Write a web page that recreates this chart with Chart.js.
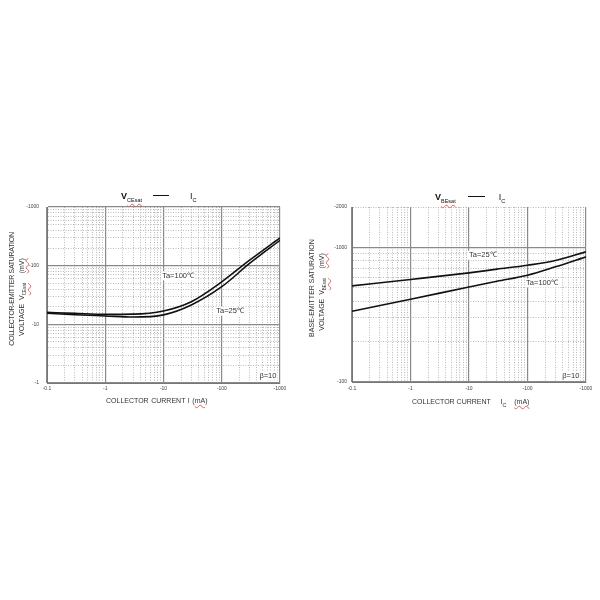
<!DOCTYPE html>
<html>
<head>
<meta charset="utf-8">
<script src="https://cdn.jsdelivr.net/npm/chart.js@4/dist/chart.umd.min.js"></script>
<style>
    body {
        margin: 0;
        width: 600px;
        height: 600px;
        background: #fff;
        position: relative;
        overflow: hidden;
        font-family: "Liberation Sans", Arial, sans-serif;
        color: #333;
    }
    .caja { position: absolute; }
    .caja canvas { display: block; }
    .txt { position: absolute; white-space: nowrap; line-height: 1; font-size: 7px; }
    .rot { transform: translate(-50%, -50%) rotate(-90deg); }
    .sub { font-size: 5.5px; vertical-align: -2.5px; }
    .sub.peq { font-size: 4.5px; vertical-align: -2px; }
    .rojo { text-decoration: underline wavy #e06060; text-decoration-thickness: 0.5px; }
    .raya { display: inline-block; height: 1.5px; background: #111; vertical-align: 3px; }
    .titulo { font-size: 9px; color: #111; }
</style>
</head>
<body>

<!-- Graficos -->
<div class="caja" style="left:0; top:200px; width:300px; height:200px;">
    <canvas id="grafico-vce" width="300" height="200"></canvas>
</div>
<div class="caja" style="left:300px; top:200px; width:300px; height:200px;">
    <canvas id="grafico-vbe" width="300" height="200"></canvas>
</div>

<!-- Titulos -->
<div class="txt titulo" style="left:121px; top:192px;">
    <b>V</b><span class="sub rojo">CEsat</span><span class="raya" style="margin-left:11px; width:16px;"></span><span style="margin-left:21px;">I</span><span class="sub">C</span>
</div>
<div class="txt titulo" style="left:435px; top:193px;">
    <b>V</b><span class="sub rojo">BEsat</span><span class="raya" style="margin-left:12px; width:17px;"></span><span style="margin-left:14px;">I</span><span class="sub">C</span>
</div>

<!-- Titulos de eixo Y -->
<div class="txt rot" style="left:11px; top:289px; letter-spacing:-0.3px;">COLLECTOR-EMITTER SATURATION</div>
<div class="txt rot" style="left:23px; top:297px;">VOLTAGE&nbsp;&nbsp;V<span class="sub peq rojo">CEsat</span>&nbsp;&nbsp;&nbsp;&nbsp;&nbsp;<span class="rojo">(mV)</span></div>
<div class="txt rot" style="left:311px; top:288px;">BASE-EMITTER SATURATION</div>
<div class="txt rot" style="left:323px; top:292px;">VOLTAGE&nbsp;&nbsp;V<span class="sub peq rojo">BEsat</span>&nbsp;&nbsp;&nbsp;&nbsp;&nbsp;<span class="rojo">(mV)</span></div>

<!-- Titulos de eixo X -->
<div class="txt" style="left:106px; top:397px; word-spacing:0.6px;">COLLECTOR CURRENT I (<span class="rojo">mA</span>)</div>
<div class="txt" style="left:412px; top:398px;">COLLECTOR CURRENT&nbsp;&nbsp;&nbsp;&nbsp;&nbsp;I<span class="sub">C</span>&nbsp;&nbsp;&nbsp;&nbsp;<span class="rojo">(mA)</span></div>

<script>
// Dados (valores em modulo; os rotulos levam o sinal "-")

// VCE(sat) x IC
const correnteCE = [0.1, 0.3, 1, 3, 10, 30, 100, 300, 1000];
const vceTa100 = [16, 15.4, 14.8, 14.9, 16.9, 24.3, 53, 124, 297];
const vceTa25 = [15.5, 14.6, 13.9, 13.3, 14.5, 21.4, 43.8, 109, 271];

// VBE(sat) x IC
const correnteBE = [0.1, 1, 10, 30, 100, 300, 1000];
const vbeTa25 = [518, 578, 648, 690, 738, 800, 929];
const vbeTa100 = [336, 412, 509, 561, 622, 718, 852];

// Rotulos dos eixos
const rotulosX = [0.1, 1, 10, 100, 1000];
const rotulosYCE = [1, 10, 100, 1000];
const rotulosYBE = [100, 1000, 2000];

// Gerar linhas da grade logaritmica (1..9 em cada decada)
const subdivisoes = (inicio, fim) => {
    const valores = [];
    for (let d = inicio; d < fim; d *= 10) {
        for (let k = 1; k < 10; k++) {
            valores.push(Number((d * k).toPrecision(3)));
        }
    }
    valores.push(fim);
    return valores;
};

const ehDecada = (v) => Math.abs(Math.log10(v) - Math.round(Math.log10(v))) < 1e-6;

// Anotacoes de texto em coordenadas dos dados
const anotacoes = {
    id: 'anotacoes',
    afterDatasetsDraw(chart, args, opts) {
        const { ctx, scales: { x, y } } = chart;
        ctx.save();
        ctx.font = '7.5px "Liberation Sans", Arial, sans-serif';
        ctx.textAlign = 'center';
        ctx.textBaseline = 'middle';
        (opts.textos || []).forEach(t => {
            const px = x.getPixelForValue(t.x);
            const py = y.getPixelForValue(t.y);
            const w = ctx.measureText(t.texto).width;
            ctx.fillStyle = '#fff';
            ctx.fillRect(px - w / 2 - 1, py - 4.5, w + 2, 9);
            ctx.fillStyle = '#333';
            ctx.fillText(t.texto, px, py);
        });
        ctx.restore();
    }
};

// Montar eixo logaritmico
const eixoLog = (min, max, grade, rotulos, tamanho, vertical, pad) => ({
    type: 'logarithmic',
    min,
    max,
    afterBuildTicks: (scale) => {
        scale.ticks = grade.map(v => ({ value: v }));
    },
    afterFit: (scale) => {
        if (vertical) {
            scale.width = tamanho;
            // o espaco do topo fica por conta do layout
            scale.paddingTop = 0;
            scale.paddingBottom = 0;
        } else {
            scale.height = tamanho;
        }
    },
    ticks: {
        autoSkip: false,
        maxRotation: 0,
        padding: pad,
        color: '#444',
        font: { size: 5, family: '"Liberation Sans", Arial, sans-serif' },
        callback: (valor) => rotulos.includes(valor) ? '-' + valor : ''
    },
    grid: {
        drawTicks: false,
        color: (c) => c.tick && ehDecada(c.tick.value) ? '#8a8a8a' : '#a8a8a8',
        lineWidth: (c) => c.tick && ehDecada(c.tick.value) ? 1.2 : 0.8
    },
    border: {
        display: true,
        color: '#777',
        width: 1,
        dash: (c) => c.tick && !ehDecada(c.tick.value) ? [1, 1.5] : []
    }
});

const serie = (xs, ys) => xs.map((v, i) => ({ x: v, y: ys[i] }));

const estiloLinha = {
    borderColor: '#111',
    borderWidth: 1.6,
    pointRadius: 0,
    fill: false,
    cubicInterpolationMode: 'monotone'
};

// Grafico VCE(sat)
new Chart(document.getElementById('grafico-vce'), {
    type: 'line',
    data: {
        datasets: [
            { ...estiloLinha, label: 'Ta=100℃', data: serie(correnteCE, vceTa100) },
            { ...estiloLinha, label: 'Ta=25℃', data: serie(correnteCE, vceTa25) }
        ]
    },
    options: {
        responsive: false,
        animation: false,
        layout: { padding: { left: 0, right: 20, top: 7, bottom: 0 } },
        scales: {
            x: eixoLog(0.1, 1000, subdivisoes(0.1, 1000), rotulosX, 17, false, 3),
            y: eixoLog(1, 1000, subdivisoes(1, 1000), rotulosYCE, 47, true, 8)
        },
        plugins: {
            legend: { display: false },
            tooltip: { enabled: false },
            anotacoes: {
                textos: [
                    { texto: 'Ta=100℃', x: 17.8, y: 66.8 },
                    { texto: 'Ta=25℃', x: 139, y: 16.8 },
                    { texto: 'β=10', x: 620, y: 1.33 }
                ]
            }
        }
    },
    plugins: [anotacoes]
});

// Grafico VBE(sat)
const gradeYBE = [100, 200, 300, 400, 500, 600, 700, 800, 900, 1000, 2000];

new Chart(document.getElementById('grafico-vbe'), {
    type: 'line',
    data: {
        datasets: [
            { ...estiloLinha, label: 'Ta=25℃', data: serie(correnteBE, vbeTa25) },
            { ...estiloLinha, label: 'Ta=100℃', data: serie(correnteBE, vbeTa100) }
        ]
    },
    options: {
        responsive: false,
        animation: false,
        layout: { padding: { left: 0, right: 14, top: 7, bottom: 0 } },
        scales: {
            x: eixoLog(0.1, 1000, subdivisoes(0.1, 1000), rotulosX, 18, false, 4),
            y: eixoLog(100, 2000, gradeYBE, rotulosYBE, 52, true, 5)
        },
        plugins: {
            legend: { display: false },
            tooltip: { enabled: false },
            anotacoes: {
                textos: [
                    { texto: 'Ta=25℃', x: 17.2, y: 877 },
                    { texto: 'Ta=100℃', x: 177, y: 545 },
                    { texto: 'β=10', x: 550, y: 110 }
                ]
            }
        }
    },
    plugins: [anotacoes]
});
</script>
</body>
</html>
